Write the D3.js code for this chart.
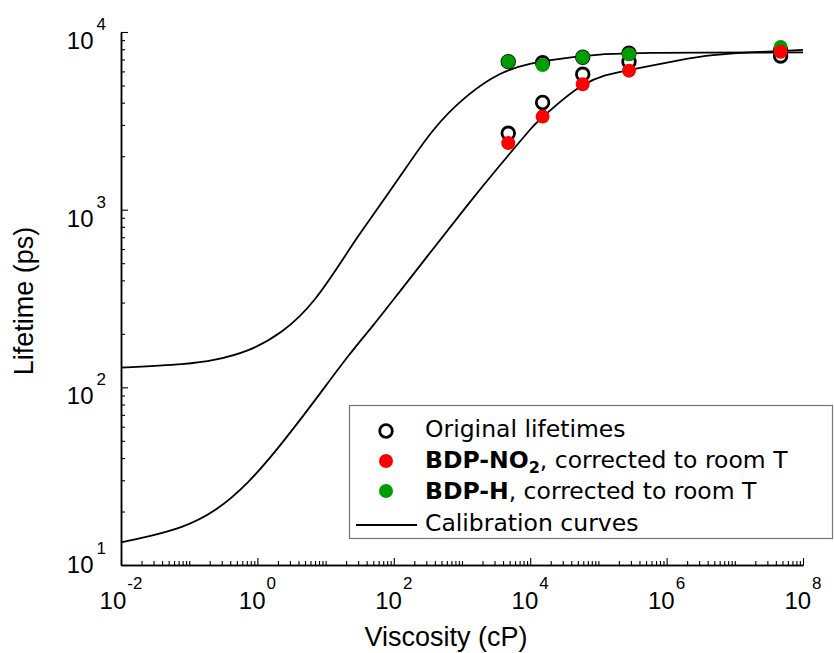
<!DOCTYPE html>
<html>
<head>
<meta charset="utf-8">
<script src="https://cdn.jsdelivr.net/npm/d3@7"></script>
<style>
  body { margin: 0; background: #fff; }
  .arial { font-family: "Liberation Sans", Arial, sans-serif; }
  .verd { font-family: "DejaVu Sans", Verdana, sans-serif; font-size: 23.5px; }
</style>
</head>
<body>
<div class="chart"></div>
<script>
// measured viscosities (cP) and lifetimes (ps)
var viscosity = [4770, 15200, 58900, 281000, 4.7e7];
var origNO2 = [2690, 4010, 5780, 6810, 7330];
var origH = [6810, 6710, 7210, 7590, 7900];
var corrNO2 = [2370, 3340, 5080, 6060, 7740];
var corrH = [6810, 6520, 7210, 7500, 8230];

// calibration curves
var calibHVisc = [0.01, 0.0776, 0.239, 0.736, 2.27, 7.0, 21.5, 40.1, 123, 376, 1170, 3610, 9930, 27400, 105000, 571000, 3.09e6, 1e8];
var calibHLife = [129, 135, 143, 162, 206, 314, 585, 830, 1535, 2790, 4340, 5800, 6620, 7060, 7460, 7620, 7660, 7670];
var calibNO2Visc = [0.01, 0.0251, 0.0776, 0.239, 0.736, 2.27, 7.0, 21.5, 50.1, 123, 379, 1172, 3606, 9930, 15200, 58900, 281000, 1.57e6, 4.79e6, 2.34e7, 1e8];
var calibNO2Life = [13.4, 14.5, 16.4, 20.4, 29.4, 48.4, 84.7, 150, 224, 347, 603, 1047, 1778, 2818, 3311, 5012, 6109, 6950, 7413, 7727, 7925];

var xMajorExp = [-2, 0, 2, 4, 6, 8];
var yMajorExp = [1, 2, 3, 4];
var legendLabels = ["Original lifetimes", "BDP-NO", "BDP-H", "Calibration curves"];

var marginTop = 32;
var marginLeft = 121;
var width = 682;
var height = 533;

var svg = d3.select('.chart')
  .append('svg')
  .attr("width", 834)
  .attr("height", 653);

var xScale = d3.scaleLog().domain([1e-2, 1e8]).range([0, width]);
var yScale = d3.scaleLog().domain([10, 1e4]).range([height, 0]);

var base = svg.append("g")
  .attr("transform", "translate(" + marginLeft + "," + marginTop + ")");

// minor ticks: 2..9 of every decade, plus odd decades
function minorTicks(e0, e1, majors) {
  var out = [];
  for (var e = e0; e < e1; e++) {
    for (var k = 1; k < 10; k++) {
      if (k == 1 && majors.indexOf(e) >= 0) continue;
      out.push(k * Math.pow(10, e));
    }
  }
  return out;
}

var xMinor = minorTicks(-2, 8, xMajorExp);
var yMinor = minorTicks(1, 4, yMajorExp);

base.append("g")
  .attr("transform", "translate(0," + height + ")")
  .call(d3.axisBottom(xScale).tickValues(xMinor).tickSizeInner(-4).tickSizeOuter(0).tickFormat(""));
base.append("g")
  .attr("transform", "translate(0," + height + ")")
  .call(d3.axisBottom(xScale).tickValues(xMajorExp.map(function (e) { return Math.pow(10, e); }))
    .tickSizeInner(-7).tickSizeOuter(0).tickFormat(""));
base.append("g")
  .call(d3.axisLeft(yScale).tickValues(yMinor).tickSizeInner(-4).tickSizeOuter(0).tickFormat(""));
base.append("g")
  .call(d3.axisLeft(yScale).tickValues(yMajorExp.map(function (e) { return Math.pow(10, e); }))
    .tickSizeInner(-7).tickSizeOuter(0).tickFormat(""));

base.selectAll(".domain").attr("stroke", "#000").attr("stroke-width", 1.5);
base.selectAll(".tick line").attr("stroke", "#000").attr("stroke-width", 1.1);

// tick labels 10^n
xMajorExp.forEach(function (e) {
  var t = base.append("text")
    .attr("class", "arial")
    .attr("x", xScale(Math.pow(10, e)))
    .attr("y", height + 44)
    .attr("text-anchor", "middle")
    .style("font-size", "24px");
  t.append("tspan").text("10");
  t.append("tspan").attr("dx", 1).attr("dy", -20).style("font-size", "17px").text(e);
});

yMajorExp.forEach(function (e, i) {
  var shift = i == 0 ? -9 : 0;
  var t = base.append("text")
    .attr("class", "arial")
    .attr("x", -15)
    .attr("y", yScale(Math.pow(10, e)) + 17 + shift)
    .attr("text-anchor", "end")
    .style("font-size", "24px");
  t.append("tspan").text("10");
  t.append("tspan").attr("dx", 3).attr("dy", -19).style("font-size", "17px").text(e);
});

// axis titles
svg.append("text")
  .attr("class", "arial")
  .attr("x", 446)
  .attr("y", 646)
  .attr("text-anchor", "middle")
  .style("font-size", "27px")
  .text("Viscosity (cP)");

svg.append("text")
  .attr("class", "arial")
  .attr("transform", "translate(33,301) rotate(-90)")
  .attr("text-anchor", "middle")
  .style("font-size", "27px")
  .text("Lifetime (ps)");

// calibration curves
var line = d3.line()
  .x(function (d) { return xScale(d[0]); })
  .y(function (d) { return yScale(d[1]); })
  .curve(d3.curveNatural);

[[calibHVisc, calibHLife], [calibNO2Visc, calibNO2Life]].forEach(function (c) {
  base.append("path")
    .datum(d3.zip(c[0], c[1]))
    .attr("d", line)
    .attr("fill", "none")
    .attr("stroke", "#000")
    .attr("stroke-width", 1.8);
});

// points
function ring(vals) {
  base.selectAll(null)
    .data(d3.zip(viscosity, vals))
    .enter()
    .append("circle")
    .attr("cx", function (d) { return xScale(d[0]); })
    .attr("cy", function (d) { return yScale(d[1]); })
    .attr("r", 6.3)
    .attr("fill", "#fff")
    .attr("stroke", "#000")
    .attr("stroke-width", 2.8);
}
function dot(vals, color) {
  base.selectAll(null)
    .data(d3.zip(viscosity, vals))
    .enter()
    .append("circle")
    .attr("cx", function (d) { return xScale(d[0]); })
    .attr("cy", function (d) { return yScale(d[1]); })
    .attr("r", 7)
    .attr("fill", color);
}
ring(origNO2);
ring(origH);
dot(corrH, "#009d00");
dot(corrNO2, "#ff0000");

// legend
var legend = svg.append("g");
legend.append("rect")
  .attr("x", 349.5)
  .attr("y", 405.5)
  .attr("width", 483)
  .attr("height", 133)
  .attr("fill", "#fff")
  .attr("stroke", "#777")
  .attr("stroke-width", 1.2);

var rowY = [429, 460, 491, 523];

legend.append("circle").attr("cx", 386).attr("cy", rowY[0] + 2).attr("r", 6.3)
  .attr("fill", "#fff").attr("stroke", "#000").attr("stroke-width", 2.8);
legend.append("circle").attr("cx", 386).attr("cy", rowY[1] + 1).attr("r", 7).attr("fill", "#ff0000");
legend.append("circle").attr("cx", 386).attr("cy", rowY[2]).attr("r", 7).attr("fill", "#009d00");
legend.append("line").attr("x1", 356).attr("x2", 417).attr("y1", rowY[3] + 2).attr("y2", rowY[3] + 2)
  .attr("stroke", "#000").attr("stroke-width", 1.8);

function legText(y) {
  return legend.append("text")
    .attr("class", "verd")
    .attr("x", 425)
    .attr("y", y + 8);
}
legText(rowY[0]).text(legendLabels[0]);
var t2 = legText(rowY[1]);
t2.append("tspan").style("font-weight", "bold").text(legendLabels[1]);
t2.append("tspan").style("font-weight", "bold").style("font-size", "16px").attr("dy", 5).text("2");
t2.append("tspan").attr("dy", -5).text(", corrected to room T");
var t3 = legText(rowY[2]);
t3.append("tspan").style("font-weight", "bold").text(legendLabels[2]);
t3.append("tspan").text(", corrected to room T");
legText(rowY[3]).text(legendLabels[3]);
</script>
</body>
</html>
